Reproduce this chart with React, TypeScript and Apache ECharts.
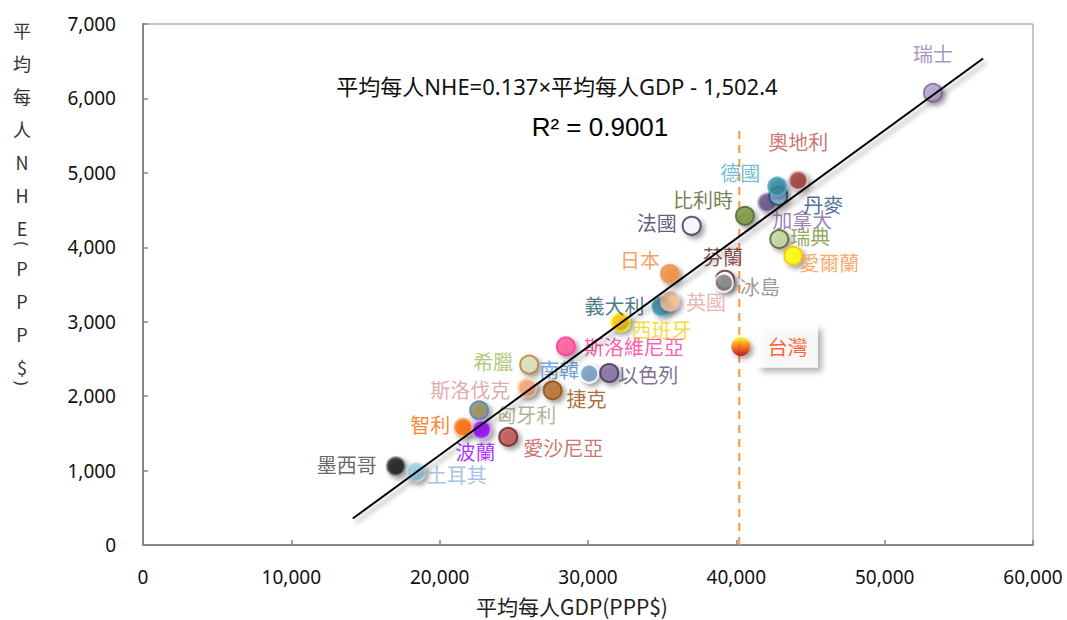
import React, { useEffect, useRef } from "react";
import * as echarts from "echarts";

const countries = ["瑞士", "奧地利", "加拿大", "丹麥", "德國", "比利時", "法國", "瑞典", "愛爾蘭", "日本", "芬蘭", "冰島", "義大利", "英國", "西班牙", "斯洛維尼亞", "希臘", "南韓", "以色列", "斯洛伐克", "捷克", "匈牙利", "智利", "波蘭", "愛沙尼亞", "墨西哥", "土耳其"];
const gdpPerCapita = [53257, 44173, 42084, 42825, 42758, 40580, 36986, 42893, 43837, 35523, 39232, 39164, 34963, 35523, 32198, 28510, 26035, 30081, 31430, 25900, 27613, 22663, 21585, 22826, 24619, 17047, 18395];
const nhePerCapita = [6074, 4897, 4601, 4691, 4816, 4423, 4289, 4110, 3886, 3644, 3564, 3523, 3205, 3272, 2991, 2668, 2423, 2302, 2311, 2110, 2078, 1809, 1581, 1550, 1452, 1058, 977];

const taiwanName = "台灣";
const taiwanGdp = 40300;
const taiwanNhe = 2668;

const refLineX = [40200, 40200];
const refLineY = [0, 5580];

const trendX = [14141, 56633];
const trendY = [356, 6536];

const xTicks = [0, 10000, 20000, 30000, 40000, 50000, 60000];
const yTicks = [0, 1000, 2000, 3000, 4000, 5000, 6000, 7000];

const equationText = "平均每人NHE=0.137×平均每人GDP - 1,502.4";
const r2Text = "R² = 0.9001";
const xTitle = "平均每人GDP(PPP$)";
const yTitleChars = ["平", "均", "每", "人", "N", "H", "E", "(", "P", "P", "P", "$", ")"];

// styles: fill, border, label color, label offset
const styles: Record<string, { fill: string; border: string; lc: string; off: [number, number] }> = {
  "瑞士": { fill: "#b3a2c7", border: "#8064a2", lc: "#8c7bb0", off: [0, -39] },
  "奧地利": { fill: "#953735", border: "#e6b9b8", lc: "#c0504d", off: [0, -39] },
  "加拿大": { fill: "#604a7b", border: "#b3a2c7", lc: "#8064a2", off: [35, 17] },
  "丹麥": { fill: "#8db3e2", border: "#1f497d", lc: "#1f497d", off: [45, 9] },
  "德國": { fill: "#31859c", border: "#4bacc6", lc: "#4bacc6", off: [-37, -14] },
  "比利時": { fill: "#77933c", border: "#4f6228", lc: "#4f6228", off: [-42, -16] },
  "法國": { fill: "#ffffff", border: "#403152", lc: "#403152", off: [-35, -3] },
  "瑞典": { fill: "#c3d69b", border: "#4f6228", lc: "#77933c", off: [31, -3] },
  "愛爾蘭": { fill: "#ffff00", border: "#ffc000", lc: "#f79646", off: [36, 7] },
  "日本": { fill: "#f08c3c", border: "#f79646", lc: "#f08c3c", off: [-30, -14] },
  "芬蘭": { fill: "#ffffff", border: "#632523", lc: "#632523", off: [-2, -23] },
  "冰島": { fill: "#808080", border: "#ffffff", lc: "#7f7f7f", off: [36, 4] },
  "義大利": { fill: "#31859c", border: "#4bacc6", lc: "#215968", off: [-47, -1] },
  "英國": { fill: "#fac090", border: "#e6b9b8", lc: "#e6a0a0", off: [36, 0] },
  "西班牙": { fill: "#ffc000", border: "#ffff00", lc: "#f5d20a", off: [41, 7] },
  "斯洛維尼亞": { fill: "#ff5599", border: "#ff3399", lc: "#ff3399", off: [68, 0] },
  "希臘": { fill: "#d7e4bd", border: "#c0772d", lc: "#9bbb59", off: [-36, -3] },
  "南韓": { fill: "#7399c6", border: "#ffffff", lc: "#558ed5", off: [-30, -4] },
  "以色列": { fill: "#7f6a9f", border: "#403152", lc: "#5f497a", off: [39, 2] },
  "斯洛伐克": { fill: "#f4a46a", border: "#fcd5b5", lc: "#d99694", off: [-57, 2] },
  "捷克": { fill: "#b46b29", border: "#984807", lc: "#984807", off: [34, 8] },
  "匈牙利": { fill: "#948a54", border: "#4f81bd", lc: "#a09f7d", off: [47, 4] },
  "智利": { fill: "#ff6600", border: "#fac090", lc: "#ff6600", off: [-33, -3] },
  "波蘭": { fill: "#9900ff", border: "#cc99ff", lc: "#9900ff", off: [-6, 22] },
  "愛沙尼亞": { fill: "#c0504d", border: "#632523", lc: "#c0504d", off: [55, 11] },
  "墨西哥": { fill: "#0d0d0d", border: "#7f7f7f", lc: "#404040", off: [-49, -2] },
  "土耳其": { fill: "#93cddd", border: "#b7dee8", lc: "#8db3e2", off: [41, 2] },
};

const CJK = '"Noto Sans CJK TC", "Noto Sans", sans-serif';
const LAT = '"Noto Sans", "Noto Sans CJK TC", sans-serif';

export default function App() {
  const ref = useRef<HTMLDivElement>(null);
  useEffect(() => {
    if (!ref.current) return;
    const chart = echarts.init(ref.current, undefined, { renderer: "svg" });
    const shadow = { shadowBlur: 5, shadowColor: "rgba(0,0,0,0.45)", shadowOffsetX: 3, shadowOffsetY: 3 };

    const scatterData = countries.map((c, i) => {
      const s = styles[c];
      return {
        name: c,
        value: [gdpPerCapita[i], nhePerCapita[i]],
        itemStyle: { color: s.fill, borderColor: s.border, borderWidth: 2, ...shadow },
        label: {
          show: true,
          formatter: c,
          position: "inside",
          offset: s.off,
          color: s.lc,
          fontSize: 20,
          fontFamily: CJK,
        },
      };
    });

    const fmt = (v: number) => v.toLocaleString("en-US");

    // y title (stacked characters, parentheses turned sideways)
    let yy = 30;
    let prevParen = false;
    const yTitleEls: any[] = [];
    yTitleChars.forEach((ch, i) => {
      const isParen = ch === "(" || ch === ")";
      if (i > 0) yy += isParen ? 16 : prevParen ? 24 : 33;
      yTitleEls.push({
        type: "text",
        x: 22,
        y: yy,
        rotation: isParen ? -Math.PI / 2 : 0,
        style: {
          text: ch,
          fill: "#333",
          font: isParen ? `16px ${LAT}` : `18px ${CJK}`,
          align: "center",
          verticalAlign: "middle",
        },
      });
      prevParen = isParen;
    });

    chart.setOption({
      animation: false,
      backgroundColor: "#ffffff",
      grid: { left: 143, right: 34, top: 24, bottom: 75, show: true, borderColor: "#8c8c8c", borderWidth: 1 },
      xAxis: {
        type: "value",
        min: xTicks[0],
        max: xTicks[xTicks.length - 1],
        interval: xTicks[1] - xTicks[0],
        axisLine: { show: true, lineStyle: { color: "#868686", width: 2 } },
        axisTick: { show: true, inside: true, length: 5, lineStyle: { color: "#868686", width: 1.5 } },
        axisLabel: { formatter: fmt, fontSize: 19, color: "#111", margin: 22, fontFamily: LAT },
        splitLine: { show: false },
      },
      yAxis: {
        type: "value",
        min: yTicks[0],
        max: yTicks[yTicks.length - 1],
        interval: yTicks[1] - yTicks[0],
        axisLine: { show: true, lineStyle: { color: "#868686", width: 2 } },
        axisTick: { show: true, inside: true, length: 5, lineStyle: { color: "#868686", width: 1.5 } },
        axisLabel: { formatter: fmt, fontSize: 19, color: "#111", margin: 27, fontFamily: LAT },
        splitLine: { show: false },
      },
      graphic: [
        { type: "text", x: 557, y: 86, style: { text: equationText, fill: "#111", font: `22px ${LAT}`, align: "center", verticalAlign: "middle" } },
        { type: "text", x: 600, y: 127, style: { text: r2Text, fill: "#000", font: `26px "Liberation Sans", Arial, sans-serif`, align: "center", verticalAlign: "middle" } },
        { type: "text", x: 572, y: 606, style: { text: xTitle, fill: "#222", font: `21px ${CJK}`, align: "center", verticalAlign: "middle" } },
        ...yTitleEls,
      ],
      series: [
        {
          type: "line",
          data: refLineX.map((x, i) => [x, refLineY[i]]),
          symbol: "none",
          lineStyle: { color: "#f79646", width: 2, type: [8, 6] },
          z: 1,
          silent: true,
        },
        {
          type: "scatter",
          data: scatterData,
          symbolSize: 18,
          z: 3,
        },
        {
          type: "scatter",
          data: [{
            name: taiwanName,
            value: [taiwanGdp, taiwanNhe],
            itemStyle: {
              color: new echarts.graphic.LinearGradient(0, 0, 0, 1, [
                { offset: 0, color: "#ffff00" },
                { offset: 0.5, color: "#ff6a00" },
                { offset: 1, color: "#b00000" },
              ]),
              ...shadow,
            },
            label: {
              show: true,
              formatter: taiwanName,
              position: "inside",
              offset: [47, 0],
              color: "#ff3c00",
              fontSize: 20,
              fontFamily: CJK,
              backgroundColor: "#ffffff",
              padding: [11, 10],
              shadowBlur: 6,
              shadowColor: "rgba(0,0,0,0.4)",
              shadowOffsetX: 4,
              shadowOffsetY: 4,
            },
          }],
          symbolSize: 19,
          z: 4,
        },
        {
          type: "line",
          data: trendX.map((x, i) => [x, trendY[i]]),
          symbol: "none",
          lineStyle: { color: "#000", width: 2, shadowBlur: 5, shadowColor: "rgba(0,0,0,0.4)", shadowOffsetX: 3, shadowOffsetY: 4 },
          z: 5,
          silent: true,
        },
      ],
    });
    return () => chart.dispose();
  }, []);
  return <div ref={ref} style={{ position: "fixed", left: 0, top: 0, width: 1067, height: 620 }} />;
}
